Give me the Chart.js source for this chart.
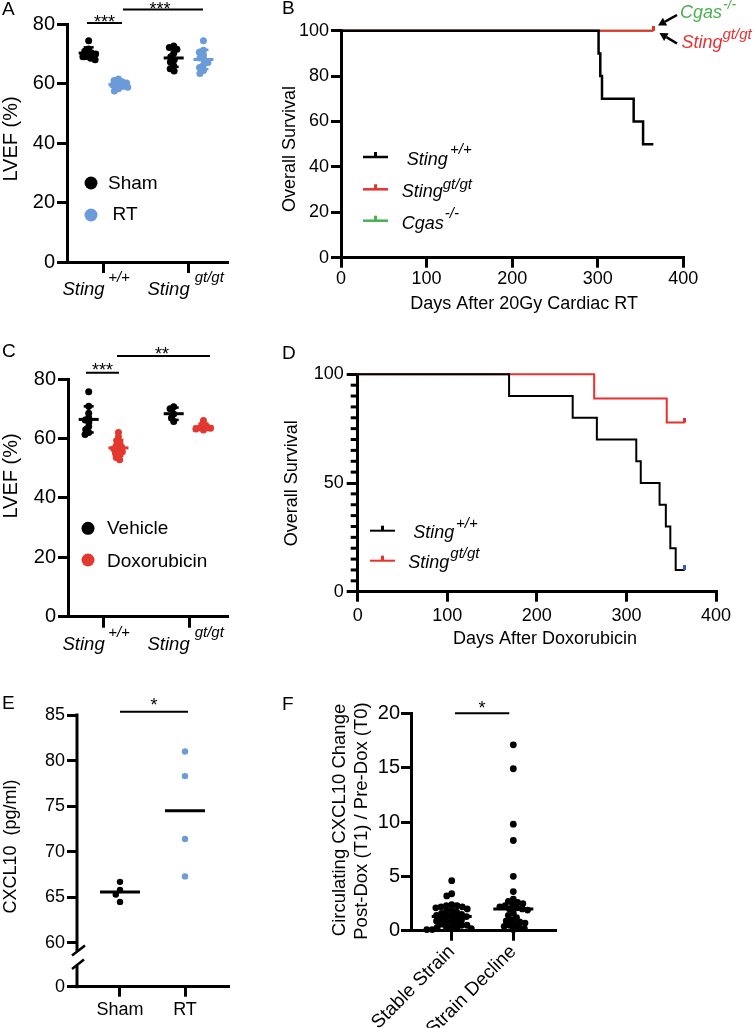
<!DOCTYPE html>
<html><head><meta charset="utf-8"><title>Figure</title>
<script src="https://cdn.jsdelivr.net/npm/chart.js@4.4.1/dist/chart.umd.min.js"></script>
<style>
html,body{margin:0;padding:0;background:#fff;}
#wrap{position:relative;width:756px;height:1028px;overflow:hidden;background:#fff}
canvas{position:absolute;left:0;top:0;}
</style></head><body><div id="wrap">
<canvas id="cA" width="756" height="1028"></canvas>
<canvas id="cB" width="756" height="1028"></canvas>
<canvas id="cC" width="756" height="1028"></canvas>
<canvas id="cD" width="756" height="1028"></canvas>
<canvas id="cE" width="756" height="1028"></canvas>
<canvas id="cF" width="756" height="1028"></canvas>
</div>
<script>
// ================= DATA =================
// A: LVEF after cardiac RT
const A_groupBase = ['Sting', 'Sting'];
const A_groupSup = ['+/+', 'gt/gt'];
const A_series = ['Sham', 'RT'];
const A_shamWT = [74.4, 71.6, 70.8, 70.3, 69.9, 69.5, 69.0, 68.5, 68.0];
const A_rtWT = [61.5, 61.0, 60.6, 60.2, 59.8, 59.5, 59.1, 58.7, 58.2, 57.5];
const A_shamGT = [72.6, 72.1, 71.5, 70.2, 69.0, 68.0, 67.2, 66.0, 65.0, 64.2];
const A_rtGT = [74.4, 71.2, 70.5, 69.6, 68.6, 68.0, 67.1, 66.2, 65.4, 64.4, 63.4];
const A_yTicks = [0, 20, 40, 60, 80];

// B: overall survival after 20Gy cardiac RT
const B_seriesBase = ['Sting', 'Sting', 'Cgas'];
const B_seriesSup = ['+/+', 'gt/gt', '-/-'];
const B_wtDays = [0, 301, 303, 305, 342, 353, 365];
const B_wtSurv = [100, 90, 80, 70, 60, 50, 50];
const B_gtDays = [0, 365];
const B_gtSurv = [100, 100];
const B_cgasDays = [0, 365];
const B_cgasSurv = [100, 100];
const B_xTicks = [0, 100, 200, 300, 400];
const B_yTicks = [0, 20, 40, 60, 80, 100];
const B_xTitle = 'Days After 20Gy Cardiac RT';

// C: LVEF after doxorubicin
const C_groupBase = ['Sting', 'Sting'];
const C_groupSup = ['+/+', 'gt/gt'];
const C_series = ['Vehicle', 'Doxorubicin'];
const C_vehWT = [75.7, 70.8, 68.5, 67.0, 66.2, 65.5, 64.0, 63.0, 62.0, 61.3];
const C_doxWT = [62.0, 60.5, 59.2, 58.3, 57.6, 57.0, 56.5, 56.0, 55.5, 55.0, 54.5, 53.6, 52.8];
const C_vehGT = [70.7, 70.0, 68.2, 67.0, 65.7];
const C_doxGT = [66.0, 64.6, 64.0, 63.6, 63.2, 62.8, 63.4];
const C_yTicks = [0, 20, 40, 60, 80];

// D: overall survival after doxorubicin
const D_seriesBase = ['Sting', 'Sting'];
const D_seriesSup = ['+/+', 'gt/gt'];
const D_wtDays = [0, 169, 240, 267, 311, 316, 337, 344, 349, 355, 365];
const D_wtSurv = [100, 90, 80, 70, 60, 50, 40, 30, 20, 10, 10];
const D_gtDays = [0, 264, 345, 365];
const D_gtSurv = [100, 88.9, 77.8, 77.8];
const D_xTicks = [0, 100, 200, 300, 400];
const D_yTicks = [0, 50, 100];
const D_yMinorTicks = [5,10,15,20,25,30,35,40,45,55,60,65,70,75,80,85,90,95];
const D_xTitle = 'Days After Doxorubicin';

// E: CXCL10 (pg/ml)
const E_groups = ['Sham', 'RT'];
const E_sham = [66.7, 65.8, 65.3, 64.5];
const E_rt = [81.0, 78.3, 71.4, 67.3];
const E_yTicks = [60, 65, 70, 75, 80, 85];
const E_yBreakLabel = '0';

// F: circulating CXCL10 change
const F_groups = ['Stable Strain', 'Strain Decline'];
const F_stable = [4.6, 3.4, 3.2, 2.4, 2.3, 2.3, 2.2, 2.2, 2.1, 2.0, 1.9, 1.8, 1.7, 1.6, 1.5, 1.4, 1.4, 1.3,
                  1.3, 1.2, 1.1, 1.0, 0.9, 0.9, 0.8, 0.7, 0.6, 0.5, 0.5, 0.4, 0.3, 0.3, 0.2, 0.2, 0.1, 0.1];
const F_decline = [17.1, 14.9, 9.8, 8.3, 5.0, 3.6, 2.9, 2.7, 2.6, 2.5, 2.4, 2.3, 2.2, 2.1, 2.0,
                   2.0, 1.9, 1.6, 1.4, 1.2, 1.0, 0.9, 0.8, 0.7, 0.6, 0.5, 0.4, 0.3, 0.2, 0.1];
const F_yTicks = [0, 5, 10, 15, 20];
const F_yTitle = ['Circulating CXCL10 Change', 'Post-Dox (T1) / Pre-Dox (T0)'];

// ================= STYLE / LAYOUT =================
const FONT = '"Liberation Sans", Arial, Helvetica, sans-serif';
const BLACK = '#000000', BLUE = '#6b9bd8', RED = '#e2382f', LRED = '#e8312f', GREEN = '#4caf50', BLUEMARK = '#3a55c4';
Chart.defaults.font.family = FONT;
Chart.defaults.color = '#000';
Chart.defaults.animation = false;
Chart.defaults.responsive = false;
Chart.defaults.plugins.legend.display = false;
Chart.defaults.plugins.tooltip.enabled = false;
Chart.defaults.events = [];

const W = 756, H = 1028, YW = 60, XH = 40;
function pad(a, xh) { return {left: a.l - YW, top: a.t, right: W - a.r, bottom: H - a.b - (xh || XH)}; }

function yAxis(min, max, tickVals, size, o = {}) {
  return {
    type: 'linear', min, max,
    afterFit: s => { s.width = YW; },
    afterBuildTicks: s => { s.ticks = tickVals.map(v => ({value: v})); },
    border: {display: o.border !== false, width: 3, color: '#000'},
    grid: {display: true, drawOnChartArea: false, drawTicks: true, tickLength: o.tl || 10, tickWidth: 3, lineWidth: 3, color: '#000', tickColor: '#000'},
    ticks: {font: {size}, color: '#000', padding: o.pad ?? 2, callback: o.cb || (v => String(v))}
  };
}
function xAxis(min, max, tickVals, size, o = {}) {
  const xh = o.xh || XH;
  return {
    type: 'linear', min, max,
    afterFit: s => { s.height = xh; },
    afterBuildTicks: s => { s.ticks = tickVals.map(v => ({value: v})); },
    border: {display: true, width: 3, color: '#000'},
    grid: {display: true, drawOnChartArea: false, drawTicks: true, tickLength: o.tl || 10, tickWidth: 3, lineWidth: 3, color: '#000', tickColor: '#000'},
    ticks: Object.assign({display: o.labels !== false, font: {size}, color: '#000', padding: o.pad ?? 3,
      autoSkip: false, maxRotation: 0, minRotation: 0, callback: o.cb || (v => String(v))}, o.ticks || {})
  };
}

// ---------- helpers ----------
function T(ctx, s, x, y, o = {}) {
  ctx.save();
  ctx.font = `${o.style || 'normal'} ${o.size || 18}px ${FONT}`;
  ctx.fillStyle = o.color || '#000';
  ctx.textAlign = o.align || 'left';
  ctx.textBaseline = o.baseline || 'alphabetic';
  if (o.rot) { ctx.translate(x, y); ctx.rotate(o.rot); ctx.fillText(s, 0, 0); }
  else ctx.fillText(s, x, y);
  ctx.restore();
}
function textW(ctx, s, size, style) {
  ctx.save(); ctx.font = `${style || 'normal'} ${size}px ${FONT}`; const w = ctx.measureText(s).width; ctx.restore(); return w;
}
function supText(ctx, base, sup, x, y, o) {
  const w = textW(ctx, base, o.size, 'italic');
  T(ctx, base, x, y, {style: 'italic', size: o.size, color: o.color});
  T(ctx, sup, x + w + (o.gap || 0), y - o.raise, {style: 'italic', size: o.supSize, color: o.color});
}
function seg(ctx, x1, y1, x2, y2, w, color) {
  ctx.save(); ctx.strokeStyle = color || '#000'; ctx.lineWidth = w; ctx.lineCap = 'butt';
  ctx.beginPath(); ctx.moveTo(x1, y1); ctx.lineTo(x2, y2); ctx.stroke(); ctx.restore();
}
function sig(ctx, x1, x2, y, stars, sx, sy) {
  seg(ctx, x1, y, x2, y, 2);
  T(ctx, stars, sx, sy + 0.57 * 18, {align: 'center', size: 18});
}
function yTitle(ctx, s, x, y, size) { T(ctx, s, x, y, {rot: -Math.PI / 2, align: 'center', baseline: 'middle', size}); }
function letter(ctx, s, x, y) { T(ctx, s, x, y, {size: 19}); }
function dot(ctx, x, y, r, color) { ctx.save(); ctx.fillStyle = color; ctx.beginPath(); ctx.arc(x, y, r, 0, Math.PI * 2); ctx.fill(); ctx.restore(); }
function arrow(ctx, x1, y1, x2, y2, w, head) {
  const a = Math.atan2(y2 - y1, x2 - x1);
  const bx = x2 - head * Math.cos(a), by = y2 - head * Math.sin(a);
  seg(ctx, x1, y1, bx, by, w);
  ctx.save(); ctx.fillStyle = '#000'; ctx.beginPath(); ctx.moveTo(x2, y2);
  ctx.lineTo(bx + head * 0.55 * Math.sin(a), by - head * 0.55 * Math.cos(a));
  ctx.lineTo(bx - head * 0.55 * Math.sin(a), by + head * 0.55 * Math.cos(a));
  ctx.closePath(); ctx.fill(); ctx.restore();
}
function legendLine(ctx, x1, x2, y, color, w) {
  seg(ctx, x1, y, x2, y, w, color);
  ctx.save(); ctx.fillStyle = color; ctx.fillRect((x1 + x2) / 2 - 1.5, y - 5, 3, 5); ctx.restore();
}
function tickImg(color) {
  const c = document.createElement('canvas'); c.width = 3; c.height = 10;
  const g = c.getContext('2d'); g.fillStyle = color; g.fillRect(0, 0, 3, 5); return c;
}

// beeswarm layout of dots (pixel space)
function swarm(ys, d) {
  const order = ys.map((y, i) => i).sort((a, b) => ys[a] - ys[b]);
  const placed = [], out = new Array(ys.length).fill(0);
  for (const i of order) {
    const y = ys[i];
    const near = placed.filter(p => Math.abs(p.y - y) < d);
    const cands = [0];
    near.forEach(p => { const dx = Math.sqrt(d * d - (p.y - y) ** 2); cands.push(p.x + dx, p.x - dx); });
    cands.sort((a, b) => Math.abs(a) - Math.abs(b) || a - b);
    let x = 0;
    for (const c of cands) { if (near.every(p => (p.x - c) ** 2 + (p.y - y) ** 2 >= d * d - 1e-6)) { x = c; break; } }
    placed.push({x, y}); out[i] = x;
  }
  return out;
}
function swarmize(chart, d) {
  const xs = chart.scales.x, ys = chart.scales.y;
  const kx = xs.getPixelForValue(1) - xs.getPixelForValue(0);
  chart.data.datasets.forEach(ds => {
    const off = swarm(ds.data.map(p => ys.getPixelForValue(p.y)), d);
    ds.data.forEach((p, i) => { p.x = p.cx + off[i] / kx; });
  });
  chart.update('none');
}
function dots(vals, cx, color, r) {
  return {data: vals.map(v => ({x: cx, y: v, cx})), backgroundColor: color, borderColor: color, borderWidth: 0,
          pointRadius: r, pointHoverRadius: r, clip: false};
}
function stats(ds) {
  const v = ds.data.map(p => p.y), n = v.length;
  const m = v.reduce((a, b) => a + b, 0) / n;
  const sd = Math.sqrt(v.reduce((a, b) => a + (b - m) ** 2, 0) / (n - 1));
  const s = v.slice().sort((a, b) => a - b);
  const med = n % 2 ? s[(n - 1) / 2] : (s[n / 2 - 1] + s[n / 2]) / 2;
  return {m, sd, med};
}
function errorBars(chart) {
  const ctx = chart.ctx, xs = chart.scales.x, ys = chart.scales.y;
  chart.data.datasets.forEach(ds => {
    const {m, sd} = stats(ds);
    const px = xs.getPixelForValue(ds.data[0].cx);
    const yT = ys.getPixelForValue(m + sd), yB = ys.getPixelForValue(m - sd), yM = ys.getPixelForValue(m);
    const c = ds.backgroundColor;
    seg(ctx, px, yT, px, yB, 2.5, c);
    seg(ctx, px - 5, yT, px + 5, yT, 2.5, c);
    seg(ctx, px - 5, yB, px + 5, yB, 2.5, c);
    seg(ctx, px - 10, yM, px + 10, yM, 3, c);
  });
}
function centerLines(chart, key) {
  const ctx = chart.ctx, xs = chart.scales.x, ys = chart.scales.y;
  chart.data.datasets.forEach(ds => {
    const st = stats(ds);
    const px = xs.getPixelForValue(ds.data[0].cx), py = ys.getPixelForValue(st[key]);
    seg(ctx, px - 20, py, px + 20, py, 3, '#000');
  });
}
function survDS(days, surv, color, w, endMark) {
  const n = days.length;
  return {type: 'line', data: days.map((d, i) => ({x: d, y: surv[i]})), borderColor: color, borderWidth: w,
    stepped: true, fill: false, clip: false, pointStyle: endMark ? tickImg(endMark) : false,
    pointRadius: c => (endMark && c.dataIndex === n - 1) ? 3 : 0, pointHoverRadius: 0};
}

// ================= PANEL A =================
const areaA = {l: 67, t: 24, r: 227, b: 262};
const SUBL = -0.18, SUBR = 0.17;
const chartA = new Chart(document.getElementById('cA'), {
  type: 'scatter',
  data: {datasets: [
    dots(A_shamWT, 0 + SUBL, BLACK, 3.5), dots(A_rtWT, 0 + SUBR, BLUE, 3.5),
    dots(A_shamGT, 1 + SUBL, BLACK, 3.5), dots(A_rtGT, 1 + SUBR, BLUE, 3.5)]},
  options: {layout: {padding: pad(areaA)},
    scales: {x: xAxis(-0.435, 1.447, [0, 1], 18, {labels: false, tl: 11}), y: yAxis(0, 80, A_yTicks, 20)}},
  plugins: [{id: 'annA', afterDatasetsDraw: c => errorBars(c), afterDraw(chart) {
    const ctx = chart.ctx, xs = chart.scales.x;
    letter(ctx, 'A', 2, 15);
    yTitle(ctx, 'LVEF (%)', 11, 139, 20);
    A_groupBase.forEach((g, i) => supText(ctx, g, A_groupSup[i], xs.getPixelForValue(i) - 41.5, 295,
      {size: 18.5, supSize: 15, raise: 13, gap: i ? 5 : 3.5}));
    dot(ctx, 91, 183, 6.5, BLACK); T(ctx, A_series[0], 108, 188.5, {size: 19});
    dot(ctx, 91, 215, 6.5, BLUE); T(ctx, A_series[1], 112.5, 220, {size: 19});
    sig(ctx, 87, 122, 23, '***', 104.5, 17.5);
    sig(ctx, 123, 203, 9.5, '***', 160, 4.5);
  }}]
});
swarmize(chartA, 4.6);

// ================= PANEL B =================
const areaB = {l: 341, t: 30.7, r: 683.3, b: 257.7};
new Chart(document.getElementById('cB'), {
  type: 'line',
  data: {datasets: [
    survDS(B_wtDays, B_wtSurv, BLACK, 2.5, null),
    survDS(B_gtDays, B_gtSurv, LRED, 2, LRED),
    survDS(B_cgasDays, B_cgasSurv, GREEN, 2, GREEN)]},
  options: {layout: {padding: pad(areaB)},
    scales: {x: xAxis(0, 400, B_xTicks, 18, {pad: 1}), y: yAxis(0, 100, B_yTicks, 18)}},
  plugins: [{id: 'annB', afterDraw(chart) {
    const ctx = chart.ctx;
    letter(ctx, 'B', 282, 14);
    yTitle(ctx, 'Overall Survival', 290.5, 149, 18);
    T(ctx, B_xTitle, 524, 309, {align: 'center', size: 18});
    const cols = [BLACK, LRED, GREEN], ly = [157, 189.3, 220.7], lx = [406.7, 401.7, 401.7], gaps = [2.3, 0, 1], raise = [11, 8, 11];
    cols.forEach((c, i) => {
      legendLine(ctx, 363, 388, ly[i], c, 2.5);
      supText(ctx, B_seriesBase[i], B_seriesSup[i], lx[i], ly[i] + 8, {size: 18, supSize: 15, raise: raise[i], gap: gaps[i]});
    });
    supText(ctx, B_seriesBase[2], B_seriesSup[2], 680, 17.5, {size: 18, supSize: 14, raise: 9, gap: 1, color: GREEN});
    supText(ctx, B_seriesBase[1], B_seriesSup[1], 681.5, 48.3, {size: 18, supSize: 15, raise: 9, gap: 0, color: LRED});
    arrow(ctx, 677, 15, 658, 25.5, 2.5, 8);
    arrow(ctx, 677, 43.5, 659.5, 33, 2.5, 8);
  }}]
});

// ================= PANEL C =================
const areaC = {l: 68, t: 379, r: 227, b: 616.7};
const chartC = new Chart(document.getElementById('cC'), {
  type: 'scatter',
  data: {datasets: [
    dots(C_vehWT, 0 + SUBL, BLACK, 3.5), dots(C_doxWT, 0 + SUBR, RED, 3.5),
    dots(C_vehGT, 1 + SUBL, BLACK, 3.5), dots(C_doxGT, 1 + SUBR, RED, 3.5)]},
  options: {layout: {padding: pad(areaC)},
    scales: {x: xAxis(-0.4235, 1.447, [0, 1], 18, {labels: false, tl: 11}), y: yAxis(0, 80, C_yTicks, 20)}},
  plugins: [{id: 'annC', afterDatasetsDraw: c => errorBars(c), afterDraw(chart) {
    const ctx = chart.ctx, xs = chart.scales.x;
    letter(ctx, 'C', 2, 357);
    yTitle(ctx, 'LVEF (%)', 11, 476, 20);
    C_groupBase.forEach((g, i) => supText(ctx, g, C_groupSup[i], xs.getPixelForValue(i) - 41.5, 649.7,
      {size: 18.5, supSize: 15, raise: 13, gap: i ? 5 : 3.5}));
    dot(ctx, 88, 528.3, 6.5, BLACK); T(ctx, C_series[0], 107, 533.5, {size: 19});
    dot(ctx, 88, 560, 6.5, RED); T(ctx, C_series[1], 107, 566.7, {size: 19});
    sig(ctx, 86, 119, 372.7, '***', 102.5, 366);
    sig(ctx, 117, 210, 356, '**', 162, 349.7);
  }}]
});
swarmize(chartC, 4.2);

// ================= PANEL D =================
const areaD = {l: 357.7, t: 374.3, r: 716, b: 591.7};
new Chart(document.getElementById('cD'), {
  type: 'line',
  data: {datasets: [
    survDS(D_wtDays, D_wtSurv, BLACK, 2, BLUEMARK),
    survDS(D_gtDays, D_gtSurv, LRED, 2, LRED)]},
  options: {layout: {padding: pad(areaD)},
    scales: {x: xAxis(0, 400, D_xTicks, 18, {pad: 4}), y: yAxis(0, 100, D_yTicks, 18, {tl: 11, pad: 3})}},
  plugins: [{id: 'annD', afterDraw(chart) {
    const ctx = chart.ctx, ys = chart.scales.y, x0 = chart.chartArea.left;
    D_yMinorTicks.forEach(v => { const py = ys.getPixelForValue(v); seg(ctx, x0 - 7, py, x0, py, 3); });
    letter(ctx, 'D', 282, 359);
    yTitle(ctx, 'Overall Survival', 291.7, 483.3, 18);
    T(ctx, D_xTitle, 545, 644, {align: 'center', size: 18});
    const cols = [BLACK, LRED], ly = [530.7, 560.7], lx = [413.3, 408.3], gaps = [1.7, 1], raise = [10, 10];
    cols.forEach((c, i) => {
      legendLine(ctx, 370, 395, ly[i], c, 2);
      supText(ctx, D_seriesBase[i], D_seriesSup[i], lx[i], ly[i] + 7, {size: 18, supSize: 15, raise: raise[i], gap: gaps[i]});
    });
  }}]
});

// ================= PANEL E =================
const areaE = {l: 77, t: 715, r: 228, b: 986.7};
const E_yMin = 55.2;
const chartE = new Chart(document.getElementById('cE'), {
  type: 'scatter',
  data: {datasets: [dots(E_sham, 0, BLACK, 3.2), dots(E_rt, 1, BLUE, 3.2)]},
  options: {layout: {padding: pad(areaE)},
    scales: {
      x: xAxis(-0.6615, 1.6615, [0, 1], 18, {cb: v => E_groups[v]}),
      y: yAxis(E_yMin, 85, [E_yMin].concat(E_yTicks), 18, {border: false, cb: (v, i) => i === 0 ? E_yBreakLabel : String(v)})}},
  plugins: [{id: 'annE', afterDatasetsDraw: c => centerLines(c, 'm'), afterDraw(chart) {
    const ctx = chart.ctx, x0 = chart.chartArea.left;
    seg(ctx, x0, 713.5, x0, 951, 3);
    seg(ctx, 72, 955.5, 85, 945.5, 2.5);
    seg(ctx, 72, 969, 84, 959.5, 2.5);
    seg(ctx, x0, 965.5, x0, 988.2, 3);
    letter(ctx, 'E', 2, 709);
    yTitle(ctx, 'CXCL10  (pg/ml)', 11, 846.5, 18);
    sig(ctx, 120, 188, 711.7, '*', 154, 700.5);
  }}]
});
swarmize(chartE, 6.2);

// ================= PANEL F =================
const areaF = {l: 411, t: 713.3, r: 555, b: 930.7};
const XH_F = 97;
const chartF = new Chart(document.getElementById('cF'), {
  type: 'scatter',
  data: {datasets: [dots(F_stable, 0, BLACK, 3.4), dots(F_decline, 1, BLACK, 3.4)]},
  options: {layout: {padding: pad(areaF, XH_F)},
    scales: {
      x: xAxis(-0.661, 1.677, [0, 1], 19, {xh: XH_F, pad: 0, cb: v => F_groups[v], ticks: {maxRotation: 45, minRotation: 45}}),
      y: yAxis(0, 20, F_yTicks, 20, {pad: 1})}},
  plugins: [{id: 'annF', afterDatasetsDraw: c => centerLines(c, 'med'), afterDraw(chart) {
    const ctx = chart.ctx;
    letter(ctx, 'F', 282, 710);
    yTitle(ctx, F_yTitle[0], 340, 820, 18.5);
    yTitle(ctx, F_yTitle[1], 361.7, 821, 18.5);
    sig(ctx, 455, 509.3, 713.3, '*', 482, 704);
  }}]
});
swarmize(chartF, 5.4);
</script></body></html>
